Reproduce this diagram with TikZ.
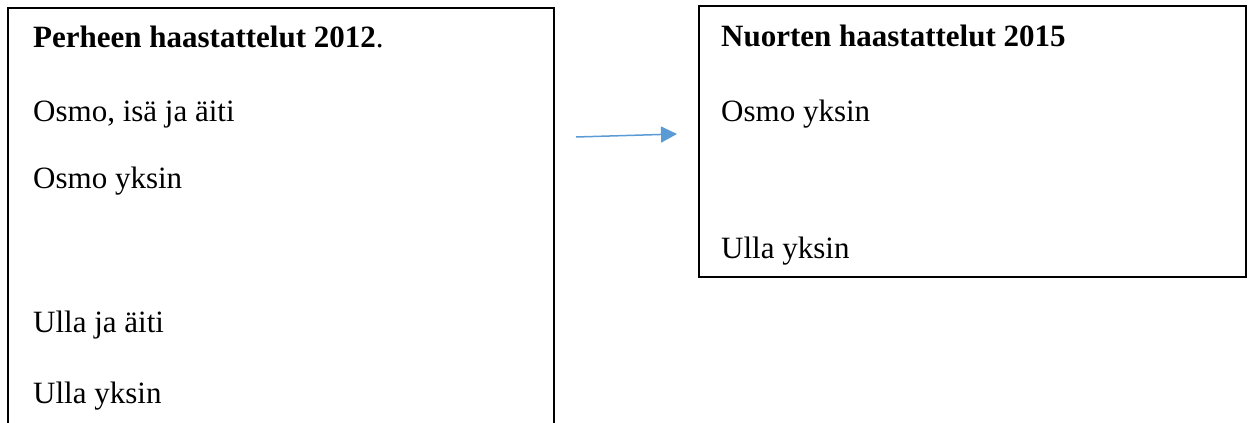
\documentclass[tikz,border=0pt]{standalone}
\usepackage{fontspec}
\setmainfont{Liberation Serif}
\usetikzlibrary{arrows.meta}
\definecolor{arrowblue}{HTML}{5B9BD5}
\begin{document}
\begin{tikzpicture}[x=1pt,y=-1pt,
  txt/.style={anchor=base west,inner sep=0pt,font=\fontsize{31}{36}\selectfont},
  boxline/.style={draw=black,line width=1.5pt},
  conn/.style={draw=arrowblue,line width=1.5pt,-{Triangle[length=16pt,width=16pt]}}]
\useasboundingbox (0,0) rectangle (1248,423);
% left box (open at bottom)
\draw[boxline] (8,430) -- (8,8) -- (554,8) -- (554,430);
% right box
\draw[boxline] (699,6) rectangle (1246,277);
% left texts
\node[txt] (l1) at (33,47) {\textbf{Perheen haastattelut 2012}.};
\node[txt] (l2) at (33,121) {Osmo, isä ja äiti};
\node[txt] (l3) at (33,188) {Osmo yksin};
\node[txt] (l4) at (33,332) {Ulla ja äiti};
\node[txt] (l5) at (33,403) {Ulla yksin};
% right texts
\node[txt] (r1) at (721,46) {\textbf{Nuorten haastattelut 2015}};
\node[txt] (r2) at (721,121) {Osmo yksin};
\node[txt] (r3) at (721,258) {Ulla yksin};
% arrow
\coordinate (a0) at (576,137);
\coordinate (a1) at (677,134);
\draw[conn] (a0) -- (a1);
\end{tikzpicture}
\end{document}
